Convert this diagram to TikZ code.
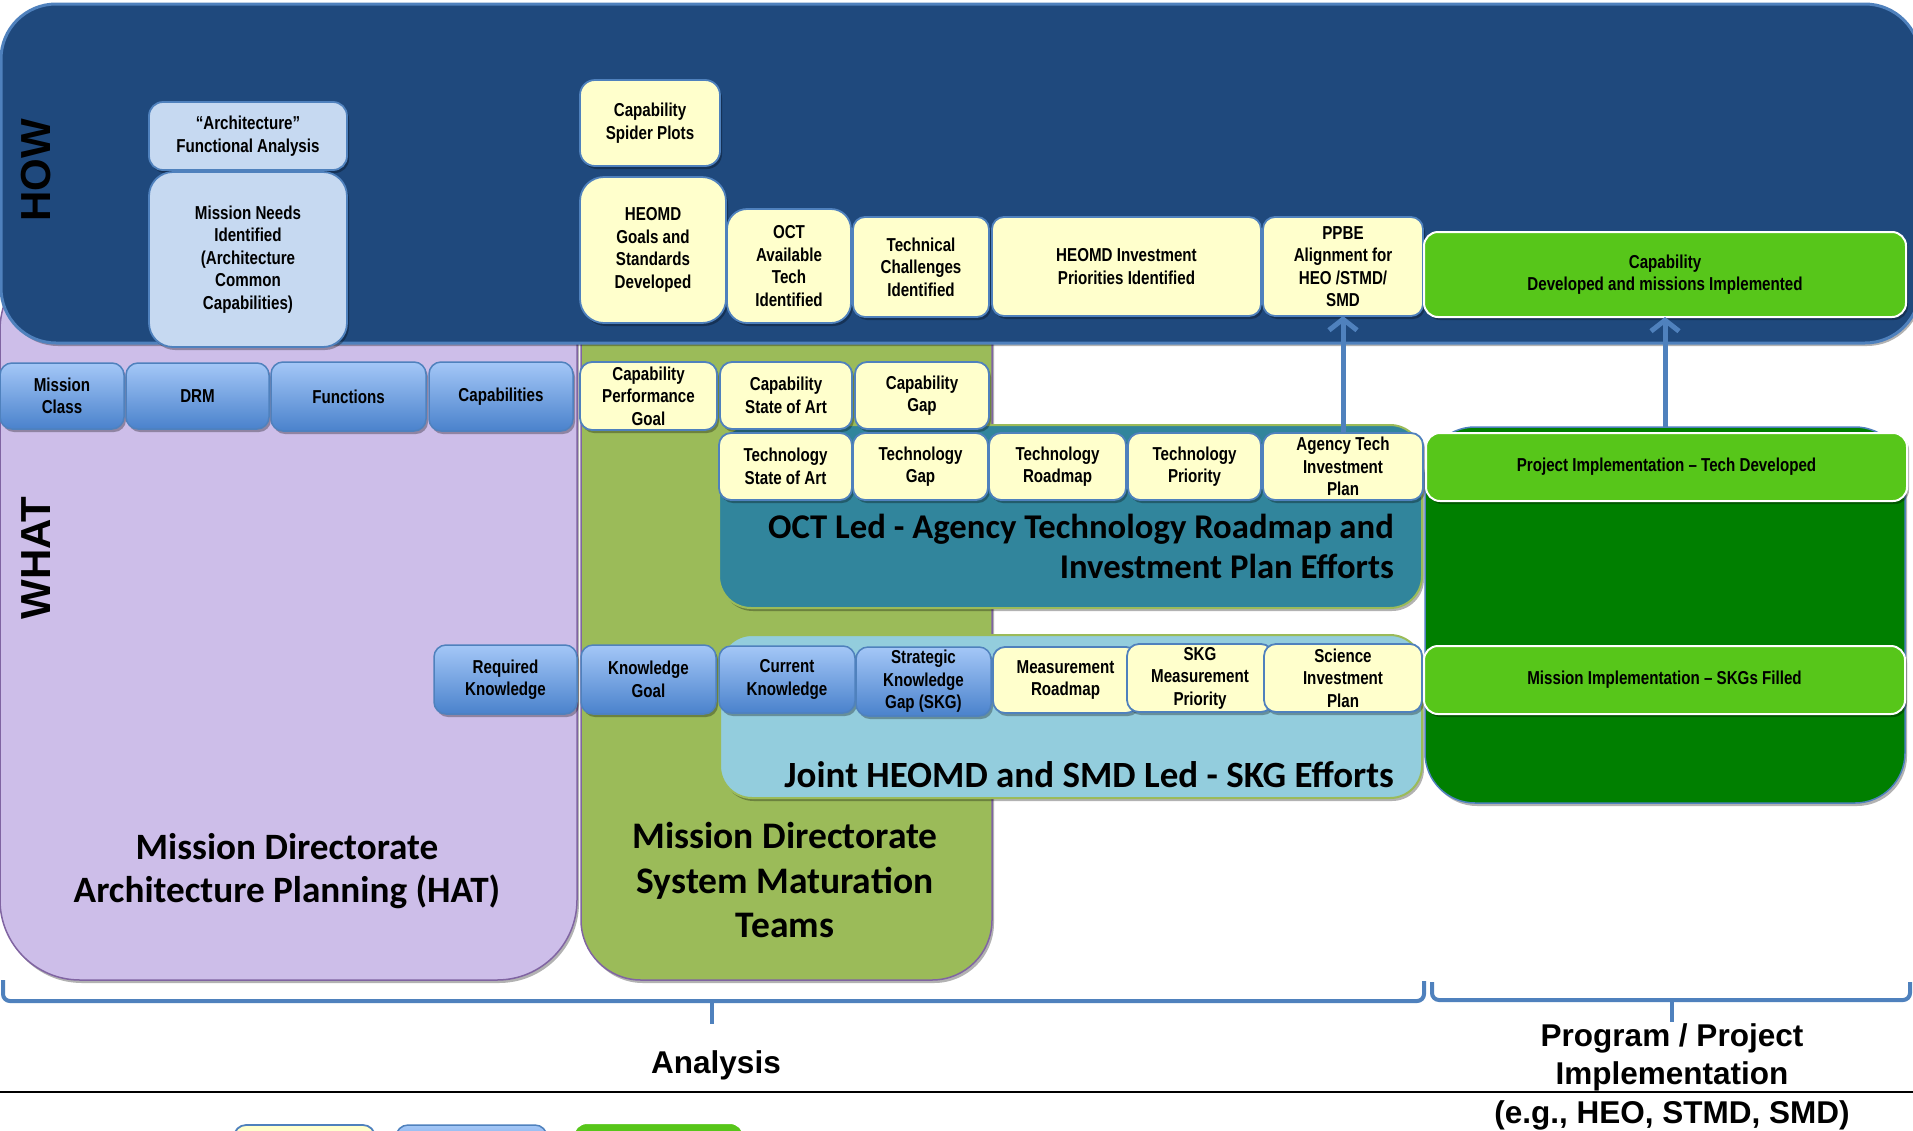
\documentclass[tikz,border=0pt]{standalone}
\usepackage{fontspec}
\setmainfont{Liberation Sans}
\newfontfamily\narrowf[FakeStretch=0.81,Ligatures=TeX]{Liberation Sans}
\newfontfamily\calib[Ligatures=TeX]{Carlito}
\usetikzlibrary{shadows,arrows.meta}

\definecolor{howblue}{HTML}{1F497D}
\definecolor{edgeblue}{HTML}{4F81BD}
\definecolor{ylw}{HTML}{FFFFCC}
\definecolor{purp}{HTML}{CDBEE9}
\definecolor{purpedge}{HTML}{8064A2}
\definecolor{olivegr}{HTML}{9BBB59}
\definecolor{octteal}{HTML}{31859C}
\definecolor{skgblue}{HTML}{93CDDD}
\definecolor{dkgreen}{HTML}{007F00}
\definecolor{brgreen}{HTML}{57C61A}
\definecolor{lblue}{HTML}{C6D9F1}
\definecolor{btop}{HTML}{A4C7F7}
\definecolor{bbot}{HTML}{4A82CC}

\tikzset{
 boxtext/.style={font=\narrowf\bfseries\fontsize{18.7}{22.5}\selectfont, align=center, inner sep=1pt, outer sep=0pt, text=black},
 shad/.style={drop shadow={shadow xshift=2pt, shadow yshift=-3pt, opacity=0.3, fill=black}},
 ybox/.style={boxtext, fill=ylw, draw=edgeblue, line width=1.8pt, rounded corners=12pt, shad},
 bbox/.style={boxtext, top color=btop, bottom color=bbot, draw=edgeblue, line width=1.5pt, rounded corners=12pt, shad},
 lbox/.style={boxtext, fill=lblue, draw=edgeblue, line width=1.8pt, rounded corners=14pt, shad},
 gbox/.style={boxtext, fill=brgreen, draw=white, line width=2pt, rounded corners=14pt, shad},
 panel/.style={line width=1.5pt, shad},
 title/.style={font=\calib\bfseries\fontsize{35}{43}\selectfont, align=center, inner sep=0pt},
 sidelbl/.style={font=\bfseries\fontsize{42}{42}\selectfont, rotate=90, inner sep=0pt},
 lowlbl/.style={font=\bfseries\fontsize{31.5}{38.5}\selectfont, align=center, inner sep=0pt},
 uparrow/.style={draw=edgeblue, line width=5pt, -{Straight Barb[length=11pt,width=28pt,line width=5pt]}},
 bracepath/.style={draw=edgeblue, line width=4pt, rounded corners=7pt},
}

\newcommand{\bx}[7]{\node[#1, minimum width={#4-#2}, minimum height={#5-#3}] (#6) at ({(#2+#4)/2},{(#3+#5)/2}) {#7};}

\begin{document}
\begin{tikzpicture}[x=1pt,y=-1pt]
\useasboundingbox (0,0) rectangle (1913,1130);
\clip (0,0) rectangle (1913,1130);
\fill[white] (0,0) rectangle (1913,1130);

% background panels
\draw[panel, fill=purp, draw=purpedge, rounded corners=80pt] (0,250) rectangle (577,980);
\draw[panel, fill=olivegr, draw=purpedge, rounded corners=60pt] (581,250) rectangle (992,980);
\draw[panel, fill=howblue, draw=edgeblue, line width=3pt, rounded corners=55pt] (1,4) rectangle (1920,343);
\draw[panel, fill=dkgreen, draw=edgeblue, rounded corners=50pt] (1425,427) rectangle (1905,803);
\draw[panel, fill=octteal, draw=olivegr, line width=2pt, rounded corners=32pt] (719,425) rectangle (1422,608);
\draw[panel, fill=skgblue, draw=olivegr, line width=2pt, rounded corners=32pt] (720,635) rectangle (1422,798);

% HOW row
\bx{lbox}{149}{102}{347}{170}{arch}{“Architecture”\\Functional Analysis}
\bx{lbox, rounded corners=24pt}{149}{172}{347}{347}{needs}{Mission Needs\\Identified\\(Architecture\\Common\\Capabilities)}
\bx{ybox, rounded corners=15pt}{580}{80}{720}{166}{spider}{Capability\\Spider Plots}
\bx{ybox, rounded corners=24pt}{580}{177}{726}{323}{goals}{HEOMD\\Goals and\\Standards\\Developed}
\bx{ybox, rounded corners=20pt}{727}{209}{851}{323}{octtech}{OCT\\Available\\Tech\\Identified}
\bx{ybox}{853}{217}{989}{317}{techch}{Technical\\Challenges\\Identified}
\bx{ybox}{992}{217}{1261}{316}{invpri}{HEOMD Investment\\Priorities Identified}
\bx{ybox}{1263}{217}{1423}{316}{ppbe}{PPBE\\Alignment for\\HEO /STMD/\\SMD}
\bx{gbox}{1424}{232}{1906}{317}{capdev}{Capability\\Developed and missions Implemented}

% WHAT row 1
\bx{bbox}{0}{363}{124}{429}{mclass}{Mission\\Class}
\bx{bbox}{126}{363}{269}{429}{drm}{DRM}
\bx{bbox}{271}{362}{426}{431}{func}{Functions}
\bx{bbox}{429}{362}{573}{431}{caps}{Capabilities}
\bx{ybox}{580}{362}{717}{430}{cpg}{Capability\\Performance\\Goal}
\bx{ybox}{720}{362}{852}{429}{csa}{Capability\\State of Art}
\bx{ybox}{855}{362}{989}{429}{cgap}{Capability\\Gap}

% technology row
\bx{ybox}{719}{433}{852}{500}{tsa}{Technology\\State of Art}
\bx{ybox}{853}{433}{988}{500}{tgap}{Technology\\Gap}
\bx{ybox}{989}{433}{1126}{500}{trm}{Technology\\Roadmap}
\bx{ybox}{1128}{433}{1261}{500}{tpri}{Technology\\Priority}
\bx{ybox}{1263}{433}{1423}{500}{agency}{Agency Tech\\Investment\\Plan}
\bx{gbox}{1426}{433}{1907}{501}{projimpl}{Project Implementation – Tech Developed}

% knowledge row
\bx{bbox}{434}{645}{577}{714}{reqk}{Required\\Knowledge}
\bx{bbox}{581}{645}{716}{714}{kgoal}{Knowledge\\Goal}
\bx{bbox}{719}{646}{855}{713}{curk}{Current\\Knowledge}
\bx{bbox}{856}{647}{991}{716}{skg}{Strategic\\Knowledge\\Gap (SKG)}
\bx{ybox}{993}{647}{1138}{713}{mroad}{Measurement\\Roadmap}
\bx{ybox}{1127}{644}{1273}{712}{skgmp}{SKG\\Measurement\\Priority}
\bx{ybox}{1264}{644}{1422}{712}{sciinv}{Science\\Investment\\Plan}
\bx{gbox}{1424}{646}{1905}{714}{misimpl}{Mission Implementation – SKGs Filled}

% arrows
\coordinate (dgtop) at (1665,427);
\draw[uparrow] (agency.north) -- (ppbe.south);
\draw[uparrow] (dgtop) -- (capdev.south);

% side labels
\node[sidelbl] (how) at (36,170) {HOW};
\node[sidelbl] (what) at (36,558) {WHAT};

% titles
\node[title, font=\calib\bfseries\fontsize{34.7}{40}\selectfont, align=right, anchor=east] (octtitle) at (1394,546) {OCT Led - Agency Technology Roadmap and\\Investment Plan Efforts};
\node[title, font=\calib\bfseries\fontsize{37}{40}\selectfont, anchor=base east] (skgtitle) at (1394,787) {Joint HEOMD and SMD Led - SKG Efforts};
\node[title, font=\calib\bfseries\fontsize{37.2}{43}\selectfont] (hattitle) at (287,871) {Mission Directorate\\Architecture Planning (HAT)};
\node[title, font=\calib\bfseries\fontsize{37.5}{44.5}\selectfont] (smttitle) at (785,880) {Mission Directorate\\System Maturation\\Teams};

% brackets
\draw[bracepath] (3,980) -- (3,1001) -- (1424,1001) -- (1424,981);
\coordinate (b1a) at (712,1001);
\coordinate (b1b) at (712,1024);
\draw[draw=edgeblue, line width=3.5pt] (b1a) -- (b1b);
\draw[bracepath] (1432,982) -- (1432,1000) -- (1910,1000) -- (1910,982);
\coordinate (b2a) at (1672,1000);
\coordinate (b2b) at (1672,1022);
\draw[draw=edgeblue, line width=3.5pt] (b2a) -- (b2b);

\node[lowlbl, anchor=base] (analysis) at (716,1073) {Analysis};
\node[lowlbl, anchor=north] (progimpl) at (1672,1023) {Program / Project\\Implementation\\(e.g., HEO, STMD, SMD)};

% separator line
\coordinate (sepl) at (0,1092);
\coordinate (sepr) at (1913,1092);
\draw[line width=2.5pt, black] (sepl) -- (sepr);

% legend (cut off)
\bx{ybox}{234}{1125}{375}{1175}{legy}{}
\bx{bbox}{396}{1125}{547}{1175}{legb}{}
\bx{gbox}{573}{1123}{744}{1175}{legg}{}
\end{tikzpicture}
\end{document}
